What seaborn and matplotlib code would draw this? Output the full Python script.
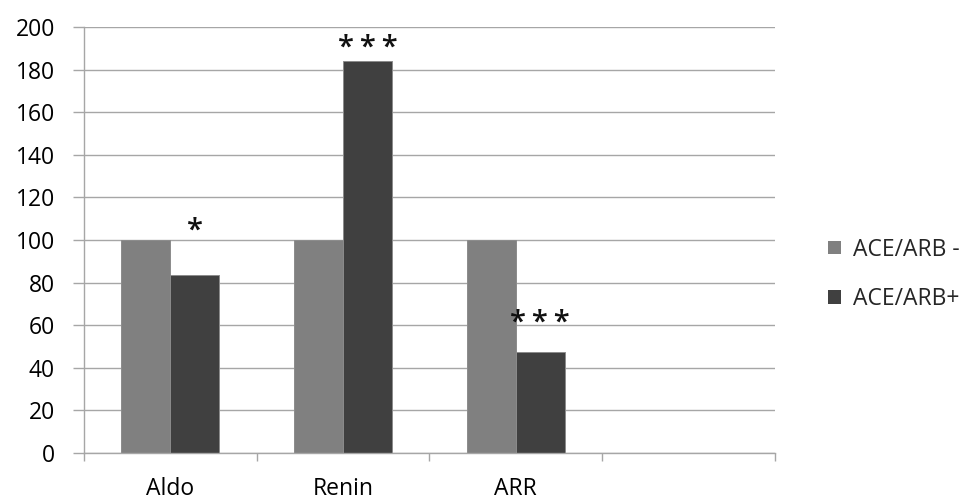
import matplotlib
matplotlib.use("Agg")
import matplotlib.pyplot as plt
import seaborn as sns
import pandas as pd
from matplotlib.ticker import FixedLocator

categories = ["Aldo", "Renin", "ARR"]
series_names = ["ACE/ARB -", "ACE/ARB+"]
ace_minus = [100, 100, 100]
ace_plus = [83.6, 184, 47.2]
stars = ["*", "*\u2009*\u2009*", "*\u2009*\u2009*"]
star_y = [104, 190, 61]
y_ticks = [0, 20, 40, 60, 80, 100, 120, 140, 160, 180, 200]

rows = []
for c, a, b in zip(categories, ace_minus, ace_plus):
    rows.append({"cat": c, "grp": series_names[0], "val": a})
    rows.append({"cat": c, "grp": series_names[1], "val": b})
df = pd.DataFrame(rows)

sns.set_theme(style="white")
plt.rcParams["font.family"] = ["Open Sans", "DejaVu Sans"]

fig = plt.figure(figsize=(9.78, 5.0), dpi=100)
ax = fig.add_axes([84/978, 47/500, 691/978, 426/500])

grid_c = "#a6a6a6"
ax.set_axisbelow(True)
ax.yaxis.grid(True, color=grid_c, linewidth=1)

sns.barplot(data=df, x="cat", y="val", hue="grp", order=categories,
            hue_order=series_names, palette=["#808080", "#404040"],
            width=0.567, ax=ax, errorbar=None, edgecolor="#8c8c8c",
            linewidth=0.7, saturation=1)

ax.set_xlim(-0.5, 3.5)
ax.set_ylim(0, 200)
ax.set_yticks(y_ticks)
ax.set_xlabel("")
ax.set_ylabel("")

for s in ["top", "right"]:
    ax.spines[s].set_visible(False)
for s in ["left", "bottom"]:
    ax.spines[s].set_color(grid_c)
    ax.spines[s].set_linewidth(1)

ax.tick_params(axis="y", which="major", direction="out", length=8, width=1,
               color=grid_c, labelsize=16.5, pad=13, left=True)
ax.tick_params(axis="x", which="major", length=0, labelsize=16.5, pad=17)
ax.xaxis.set_minor_locator(FixedLocator([-0.5, 0.5, 1.5, 2.5, 3.5]))
ax.tick_params(axis="x", which="minor", direction="out", length=6, width=1,
               color=grid_c, bottom=True)
for lab in ax.get_yticklabels() + ax.get_xticklabels():
    lab.set_color("#000000")

# significance stars over the ACE/ARB+ bars
offset = 0.567 / 4
for i, (s, yv) in enumerate(zip(stars, star_y)):
    ax.text(i + offset, yv, s, ha="center", va="center", fontsize=21,
            fontweight="semibold", color="#111111")

ax.legend(loc="center left", bbox_to_anchor=(828/978, 0.451),
          bbox_transform=fig.transFigure, frameon=False, fontsize=16.5,
          handlelength=0.55, handleheight=0.55, handletextpad=0.55,
          labelspacing=1.12, borderaxespad=0, borderpad=0)
leg = ax.get_legend()
for h in leg.legend_handles:
    h.set_edgecolor("none")

fig.savefig("out.png", dpi=100)
